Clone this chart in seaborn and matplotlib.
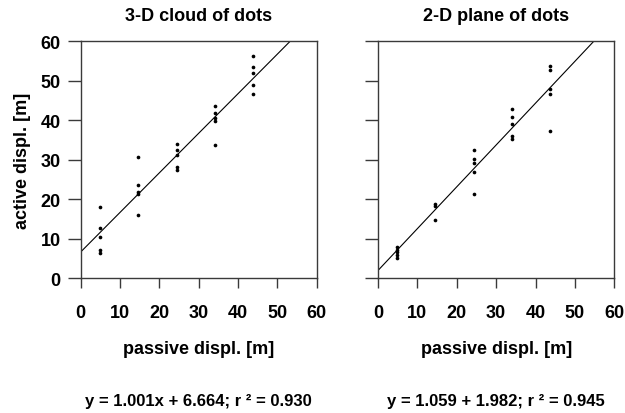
import matplotlib
matplotlib.use("Agg")
import matplotlib.pyplot as plt
import seaborn as sns
import numpy as np
import pandas as pd

sns.set_theme(style="white")
plt.rcParams['font.family'] = ['Liberation Sans', 'DejaVu Sans']
plt.rcParams['font.weight'] = 'bold'
plt.rcParams['text.color'] = 'black'
plt.rcParams['axes.labelcolor'] = 'black'
plt.rcParams['xtick.color'] = 'black'
plt.rcParams['ytick.color'] = 'black'

# Left panel: 3-D cloud of dots
x3d = [5, 5, 5, 5, 5,
       14.7, 14.7, 14.7, 14.7, 14.7,
       24.4, 24.4, 24.4, 24.4, 24.4,
       34.2, 34.2, 34.2, 34.2, 34.2,
       43.8, 43.8, 43.8, 43.8, 43.8]
y3d = [18.0, 12.7, 10.5, 7.1, 6.5,
       30.8, 23.7, 21.9, 21.4, 15.9,
       33.9, 32.6, 31.2, 28.2, 27.4,
       43.5, 41.8, 40.5, 39.9, 33.8,
       56.2, 53.5, 52.0, 48.9, 46.7]
slope3d, icpt3d = 1.001, 6.664

# Right panel: 2-D plane of dots
x2d = [4.9, 4.9, 4.9, 4.9, 4.9,
       14.6, 14.6, 14.6,
       24.3, 24.3, 24.3, 24.3, 24.3,
       34.0, 34.0, 34.0, 34.0, 34.0,
       43.8, 43.8, 43.8, 43.8, 43.8]
y2d = [7.8, 7.2, 6.6, 5.9, 5.2,
       18.7, 18.4, 14.8,
       32.4, 30.1, 29.1, 27.0, 21.3,
       42.9, 40.9, 39.1, 36.1, 35.3,
       53.7, 52.8, 48.0, 46.7, 37.2]
slope2d, icpt2d = 1.059, 1.982

titles = ["3-D cloud of dots", "2-D plane of dots"]
equations = ["y = 1.001x + 6.664; r ² = 0.930", "y = 1.059 + 1.982; r ² = 0.945"]
ticks = [0, 10, 20, 30, 40, 50, 60]

fig = plt.figure(figsize=(6.25, 4.14), dpi=100)
W, H = 625, 414
ax1 = fig.add_axes([80.7 / W, 1 - 279.3 / H, (316.5 - 80.7) / W, (279.3 - 42.3) / H])
ax2 = fig.add_axes([378 / W, 1 - 279.3 / H, (614.3 - 378) / W, (279.3 - 42.3) / H])

spine_col = "#3a3a3a"
panels = [(ax1, x3d, y3d, slope3d, icpt3d), (ax2, x2d, y2d, slope2d, icpt2d)]
for i, (ax, xs, ys, m, b) in enumerate(panels):
    df = pd.DataFrame({"x": xs, "y": ys})
    sns.scatterplot(data=df, x="x", y="y", ax=ax, color="black", s=7,
                    edgecolor="black", linewidth=0, zorder=3)
    lx = np.array([0, 60])
    line = pd.DataFrame({"x": lx, "y": m * lx + b})
    sns.lineplot(data=line, x="x", y="y", ax=ax, color="black", linewidth=0.8)
    ax.set_xlim(0, 60)
    ax.set_ylim(0, 60)
    ax.set_xticks(ticks)
    ax.set_yticks(ticks)
    for s in ax.spines.values():
        s.set_color(spine_col)
        s.set_linewidth(1.0)
    ax.tick_params(axis="x", direction="out", length=7.5, width=1.0, color=spine_col,
                   labelcolor="black", labelsize=13, pad=11, bottom=True)
    ax.tick_params(axis="y", direction="out", length=9.5, width=1.0, color=spine_col,
                   labelcolor="black", labelsize=13, pad=5, left=True)
    for lab in ax.get_xticklabels() + ax.get_yticklabels():
        lab.set_fontweight("bold")
    ax.set_title(titles[i], fontsize=13, fontweight="bold", pad=15, color="black")
    ax.set_xlabel("passive displ. [m]", fontsize=13, fontweight="bold", labelpad=14, color="black")
    if i == 0:
        ax.set_ylabel("active displ. [m]", fontsize=13, fontweight="bold", labelpad=7, color="black")
    else:
        ax.set_ylabel("")
        ax.set_yticklabels([])
    ax.text(0.5, 1 - (402 - 42.3) / (279.3 - 42.3), equations[i], transform=ax.transAxes,
            ha="center", va="center", fontsize=12, fontweight="bold", color="black")

fig.savefig("out.png", dpi=100)
